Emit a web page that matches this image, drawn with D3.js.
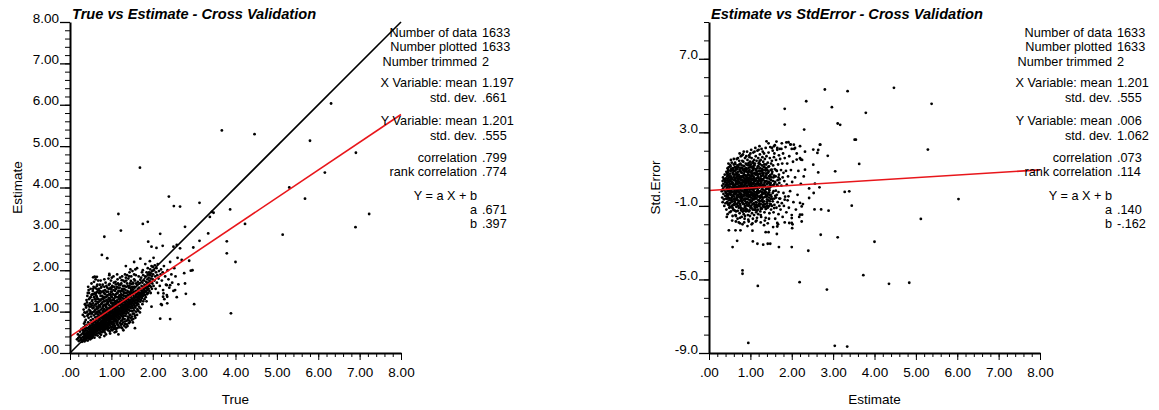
<!DOCTYPE html>
<html>
<head>
<meta charset="utf-8">
<script src="https://cdn.jsdelivr.net/npm/d3@7"></script>
<style>
body { margin: 0; background: #fff; }
svg { display: block; font-family: "Liberation Sans", Arial, sans-serif; }
</style>
</head>
<body>
<div id="chart"></div>
<script>
// ---- data ----
const axisTicks = [0, 1, 2, 3, 4, 5, 6, 7, 8];
const stdErrTicks = [-9, -5, -1, 3, 7];

const statLabels = ["Number of data", "Number plotted", "Number trimmed", "X Variable: mean", "std. dev.",
  "Y Variable: mean", "std. dev.", "correlation", "rank correlation", "Y = a X + b", "a", "b"];
const leftStats = ["1633", "1633", "2", "1.197", ".661", "1.201", ".555", ".799", ".774", "", ".671", ".397"];
const rightStats = ["1633", "1633", "2", "1.201", ".555", ".006", "1.062", ".073", ".114", "", ".140", "-.162"];

const leftFit = [0.671, 0.397];
const rightFit = [0.140, -0.162];

// True vs Estimate, dense part
const leftCloud = [
[.17,.33],[.19,.45],[.21,.29],[.22,.38],[.24,.52],[.25,.31],[.26,.44],[.27,.36],[.28,.58],[.29,.27],[.3,.47],[.23,.41],[.2,.36],[.28,.33],
[.31,.39],[.31,.55],[.32,.3],[.32,.48],[.33,.62],[.33,.36],[.34,.44],[.34,.71],[.35,.28],[.35,.52],[.36,.4],[.36,.59],[.37,.33],[.37,.47],[.37,.66],[.38,.38],[.38,.55],[.38,.8],[.39,.43],[.39,.31],[.4,.6],[.4,.49],[.4,.35],[.36,.75],[.33,.52],
[.41,.42],[.41,.68],[.42,.37],[.42,.53],[.42,.9],[.43,.46],[.43,.6],[.43,.3],[.44,.74],[.44,.5],[.44,.41],[.45,.57],[.45,.35],[.45,.85],[.45,1.52],[.46,.44],[.46,.63],[.46,1.05],[.47,.52],[.47,.39],[.47,.71],[.48,.47],[.48,.58],[.48,.95],[.49,.33],[.49,.66],[.49,.43],[.5,.54],[.5,.79],[.5,.38],[.43,1.45],[.47,1.12],
[.51,.46],[.51,.62],[.51,.88],[.52,.41],[.52,.56],[.52,.73],[.53,.5],[.53,.36],[.53,.67],[.54,.59],[.54,.45],[.54,.98],[.55,.53],[.55,.7],[.55,.4],[.55,.82],[.56,.48],[.56,.63],[.56,1.83],[.57,.57],[.57,.75],[.57,.44],[.57,1.1],[.58,.52],[.58,.68],[.58,.91],[.59,.47],[.59,.6],[.59,.37],[.6,.55],[.6,.77],[.6,1.02],[.6,.64],[.53,1.25],[.58,1.35],[.59,1.84],
[.61,.5],[.61,.69],[.61,.86],[.62,.58],[.62,.43],[.62,.74],[.63,.62],[.63,.52],[.63,.96],[.63,1.18],[.64,.67],[.64,.55],[.64,.8],[.65,.47],[.65,.71],[.65,.6],[.65,1.07],[.66,.64],[.66,.88],[.66,.53],[.66,1.3],[.67,.75],[.67,.58],[.67,.42],[.68,.69],[.68,.62],[.68,.93],[.68,1.22],[.69,.56],[.69,.78],[.69,.49],[.7,.66],[.7,.84],[.7,.59],[.7,1.01],[.62,1.4],[.66,1.48],[.69,1.12],[.64,1.55],[.67,.99],
[.71,.72],[.71,.55],[.71,.9],[.72,.63],[.72,.47],[.72,.81],[.72,1.15],[.73,.68],[.73,.58],[.73,.97],[.74,.75],[.74,.61],[.74,.52],[.74,1.28],[.75,.7],[.75,.86],[.75,.44],[.75,1.05],[.76,.65],[.76,.78],[.76,.57],[.77,.92],[.77,.69],[.77,.5],[.77,1.2],[.78,.74],[.78,.62],[.78,.84],[.78,1.38],[.79,.58],[.79,.79],[.79,1.0],[.79,.66],[.8,.71],[.8,.88],[.8,.53],[.8,1.12],[.73,1.44],[.76,1.6],[.79,1.3],[.71,1.02],[.75,.95],[.78,1.08],[.72,.38],
[.81,.76],[.81,.62],[.81,.95],[.82,.69],[.82,.55],[.82,.84],[.82,1.25],[.83,.73],[.83,.9],[.83,.6],[.83,1.06],[.84,.8],[.84,.66],[.84,.5],[.84,1.17],[.85,.75],[.85,.93],[.85,.62],[.85,1.35],[.86,.7],[.86,.86],[.86,1.01],[.86,.57],[.87,.78],[.87,.64],[.87,1.12],[.87,.45],[.88,.83],[.88,.97],[.88,.68],[.88,1.28],[.89,.74],[.89,.6],[.89,.9],[.89,1.05],[.9,.79],[.9,.66],[.9,1.18],[.9,.87],[.82,1.45],[.85,1.52],[.88,1.62],[.84,1.0],[.87,.92],[.83,.41],
[.91,.72],[.91,.85],[.91,1.0],[.92,.64],[.92,.93],[.92,1.21],[.92,.55],[.93,.8],[.93,.69],[.93,1.08],[.94,.88],[.94,.75],[.94,.6],[.94,1.33],[.95,.83],[.95,.98],[.95,.7],[.95,1.15],[.96,.77],[.96,.91],[.96,.52],[.96,1.26],[.97,.85],[.97,.66],[.97,1.04],[.97,1.42],[.98,.8],[.98,.95],[.98,.72],[.98,1.12],[.99,.88],[.99,.62],[.99,1.0],[.99,1.22],[1.0,.84],[1.0,.75],[1.0,.97],[1.0,1.36],[1.0,.57],[.93,1.55],[.96,1.67],[.99,1.48],[.95,1.88],[.91,1.4],[.97,.47],[.94,1.02],[.98,1.58],
[1.01,.9],[1.01,.7],[1.01,1.08],[1.02,.82],[1.02,1.0],[1.02,.63],[1.02,1.27],[1.03,.87],[1.03,.76],[1.03,1.16],[1.04,.93],[1.04,.68],[1.04,1.05],[1.04,1.42],[1.05,.85],[1.05,.99],[1.05,.74],[1.05,1.21],[1.06,.91],[1.06,.8],[1.06,1.12],[1.06,.58],[1.07,.96],[1.07,.86],[1.07,1.32],[1.07,.7],[1.08,1.02],[1.08,.78],[1.08,1.17],[1.08,.9],[1.09,.83],[1.09,1.07],[1.09,.65],[1.09,1.5],[1.1,.94],[1.1,1.0],[1.1,.76],[1.1,1.25],[1.03,1.6],[1.06,1.7],[1.09,1.38],[1.01,1.48],[1.05,1.3],[1.08,.5],[1.04,.88],[1.07,1.1],[1.02,.95],
[1.11,.88],[1.11,1.05],[1.11,1.18],[1.12,.8],[1.12,.97],[1.12,1.35],[1.13,.92],[1.13,1.1],[1.13,.71],[1.14,1.01],[1.14,.85],[1.14,1.27],[1.15,.96],[1.15,1.14],[1.15,.78],[1.15,1.45],[1.16,1.04],[1.16,.9],[1.16,1.22],[1.17,.98],[1.17,1.09],[1.17,.66],[1.17,1.58],[1.18,.93],[1.18,1.16],[1.18,.82],[1.18,1.31],[1.19,1.02],[1.19,.87],[1.19,1.2],[1.2,1.07],[1.2,.95],[1.2,1.4],[1.2,.73],[1.12,1.55],[1.16,1.68],[1.19,1.5],[1.14,.6],[1.18,1.05],[1.13,1.25],[1.17,.45],[1.11,1.66],[1.15,1.04],
[1.21,1.0],[1.21,1.15],[1.21,.85],[1.22,1.08],[1.22,.92],[1.22,1.3],[1.23,1.02],[1.23,1.2],[1.23,.78],[1.24,1.12],[1.24,.96],[1.24,1.42],[1.25,1.06],[1.25,.89],[1.25,1.25],[1.26,1.0],[1.26,1.17],[1.26,.7],[1.26,1.55],[1.27,1.1],[1.27,.94],[1.27,1.33],[1.28,1.04],[1.28,1.22],[1.28,.84],[1.29,1.14],[1.29,.98],[1.29,1.48],[1.3,1.08],[1.3,1.27],[1.3,.9],[1.22,1.65],[1.25,1.76],[1.28,1.62],[1.24,.62],[1.27,.8],[1.3,1.38],[1.23,1.5],[1.29,.55],[1.21,1.36],[1.26,1.02],[1.28,1.16],
[1.31,1.12],[1.31,.96],[1.31,1.3],[1.32,1.05],[1.32,1.22],[1.32,.82],[1.33,1.16],[1.33,1.0],[1.33,1.45],[1.34,1.09],[1.34,1.28],[1.34,.9],[1.35,1.2],[1.35,1.03],[1.35,1.38],[1.36,1.13],[1.36,.95],[1.36,1.6],[1.37,1.25],[1.37,1.07],[1.37,.78],[1.38,1.17],[1.38,1.33],[1.38,1.0],[1.39,1.1],[1.39,1.5],[1.39,.88],[1.4,1.22],[1.4,1.05],[1.4,1.4],[1.32,1.72],[1.35,1.82],[1.38,1.68],[1.33,.7],[1.36,1.28],[1.39,.65],[1.31,1.55],[1.4,1.15],
[1.41,1.14],[1.41,1.3],[1.41,.97],[1.42,1.2],[1.42,1.05],[1.42,1.47],[1.43,1.26],[1.43,1.1],[1.43,.86],[1.44,1.17],[1.44,1.35],[1.44,1.62],[1.45,1.22],[1.45,1.02],[1.45,1.42],[1.46,1.28],[1.46,1.12],[1.46,.92],[1.47,1.19],[1.47,1.38],[1.47,1.74],[1.48,1.25],[1.48,1.08],[1.48,1.52],[1.49,1.32],[1.49,1.15],[1.49,.8],[1.5,1.23],[1.5,1.45],[1.5,1.01],[1.43,1.85],[1.46,1.57],[1.49,1.67],[1.42,.72],[1.45,.75],
[1.51,1.3],[1.51,1.12],[1.51,1.55],[1.52,1.2],[1.52,1.4],[1.52,.95],[1.53,1.27],[1.53,1.08],[1.53,1.68],[1.54,1.35],[1.54,1.17],[1.54,1.48],[1.55,1.25],[1.55,1.03],[1.55,1.78],[1.56,1.32],[1.56,1.45],[1.56,1.14],[1.57,1.22],[1.57,1.6],[1.57,.9],[1.58,1.38],[1.58,1.28],[1.58,1.1],[1.59,1.5],[1.59,1.2],[1.59,1.88],[1.6,1.35],[1.6,1.42],[1.6,1.0],[1.53,.82],[1.57,.6],
[1.61,1.28],[1.61,1.5],[1.61,1.15],[1.62,1.37],[1.62,1.22],[1.62,1.65],[1.63,1.32],[1.63,1.43],[1.63,1.06],[1.64,1.27],[1.64,1.55],[1.64,1.72],[1.65,1.35],[1.65,1.18],[1.65,1.47],[1.66,1.4],[1.66,1.25],[1.66,1.85],[1.67,1.33],[1.67,1.58],[1.67,1.12],[1.68,1.45],[1.68,1.3],[1.68,1.68],[1.69,1.38],[1.69,1.52],[1.69,.98],[1.7,1.42],[1.7,1.24],[1.7,1.77],
[1.71,1.35],[1.71,1.55],[1.72,1.46],[1.72,1.28],[1.72,1.82],[1.73,1.4],[1.73,1.62],[1.74,1.5],[1.74,1.33],[1.74,1.95],[1.75,1.44],[1.75,1.7],[1.75,1.18],[1.76,1.56],[1.76,1.38],[1.77,1.48],[1.77,1.88],[1.77,1.25],[1.78,1.6],[1.78,1.42],[1.79,1.53],[1.79,1.75],[1.8,1.46],[1.8,1.65],[1.8,1.3],[1.76,2.0],
[1.81,1.58],[1.81,1.4],[1.82,1.5],[1.82,1.85],[1.83,1.62],[1.83,1.35],[1.84,1.72],[1.84,1.48],[1.85,1.56],[1.85,1.95],[1.86,1.66],[1.86,1.42],[1.87,1.78],[1.87,1.52],[1.88,1.6],[1.88,2.05],[1.89,1.7],[1.89,1.45],[1.9,1.82],[1.9,1.55],[1.85,1.25],[1.88,1.9],
[1.91,1.65],[1.91,1.95],[1.92,1.75],[1.92,1.5],[1.93,1.88],[1.93,1.62],[1.94,2.02],[1.94,1.7],[1.95,1.8],[1.95,1.45],[1.96,1.92],[1.96,1.6],[1.97,2.1],[1.97,1.72],[1.98,1.85],[1.98,1.55],[1.99,1.98],[1.99,1.68],[2.0,1.78],[2.0,2.08],
[2.01,1.9],[2.02,1.62],[2.03,2.0],[2.04,1.75],[2.05,2.12],[2.06,1.85],[2.07,1.55],[2.08,1.95],[2.09,2.05],[2.1,1.7],[2.11,1.88],[2.12,2.15],[2.14,1.8],[2.15,1.98],[2.17,1.62],[2.19,1.9],[2.2,2.02],[2.13,1.45],
[2.22,1.75],[2.24,1.95],[2.25,1.52],[2.27,2.1],[2.3,1.85],[2.32,1.65],[2.34,1.4],[2.36,2.0],[2.38,1.78],[2.4,1.58],[2.42,2.2],[2.45,1.9],[2.47,1.7],[2.5,1.5],[2.52,2.05],[2.55,1.85],[2.58,1.35],[2.6,2.3],[2.35,1.2],[2.28,1.3]
];

// True vs Estimate, upper half and lower edge of the cloud
const leftCloudUpper = [
[.31,.92],[.33,1.05],[.35,.88],[.36,1.18],[.38,.97],[.39,1.1],[.41,1.22],[.42,1.0],[.44,1.15],[.44,.93],[.46,1.3],[.48,1.2],[.49,1.02],[.5,1.35],[.5,.98],
[.51,1.12],[.52,1.4],[.53,.95],[.54,1.28],[.55,1.5],[.55,1.08],[.56,1.2],[.57,1.42],[.58,1.0],[.59,1.15],[.6,1.3],[.61,1.58],[.61,1.05],[.62,1.25],[.63,1.45],[.64,1.12],[.65,1.35],[.66,1.0],[.67,1.22],[.68,1.52],[.69,1.3],[.7,1.15],[.7,1.45],[.62,.95],[.65,1.62],[.68,1.08],[.57,1.6],[.53,1.15],
[.71,1.25],[.72,1.5],[.73,1.12],[.74,1.38],[.75,1.58],[.75,1.18],[.76,1.3],[.77,1.48],[.78,1.22],[.79,1.65],[.8,1.35],[.8,1.02],[.81,1.5],[.81,1.15],[.82,1.32],[.83,1.6],[.84,1.25],[.85,1.42],[.86,1.15],[.86,1.7],[.87,1.35],[.88,1.48],[.89,1.2],[.9,1.58],[.9,1.38],[.74,1.75],[.83,1.78],[.88,1.1],
[.91,1.25],[.92,1.48],[.93,1.3],[.94,1.65],[.95,1.42],[.96,1.08],[.97,1.55],[.97,1.3],[.98,1.4],[.99,1.75],[1.0,1.2],[1.0,1.55],[1.01,1.35],[1.02,1.62],[1.03,1.42],[1.04,1.2],[1.05,1.52],[1.06,1.28],[1.07,1.6],[1.08,1.4],[1.09,1.22],[1.1,1.55],[1.1,1.72],[.93,1.8],[1.05,1.85],[1.02,1.12],
[1.11,1.42],[1.12,1.25],[1.13,1.6],[1.14,1.45],[1.15,1.78],[1.16,1.35],[1.17,1.5],[1.18,1.65],[1.19,1.38],[1.2,1.58],[1.21,1.82],[1.22,1.48],[1.23,1.35],[1.24,1.68],[1.25,1.4],[1.26,1.85],[1.27,1.52],[1.28,1.4],[1.29,1.75],[1.3,1.55],[1.14,1.9],[1.2,1.25],
[1.31,1.45],[1.32,1.62],[1.33,1.9],[1.34,1.52],[1.36,1.75],[1.37,1.45],[1.38,1.88],[1.4,1.62],[1.41,1.8],[1.42,1.58],[1.44,1.95],[1.45,1.68],[1.47,1.5],[1.48,1.85],[1.5,1.6],[1.51,1.98],[1.52,1.7],[1.54,1.6],[1.55,1.9],[1.57,1.75],[1.58,2.02],[1.6,1.68],
[1.02,.55],[1.08,.62],[1.15,.68],[1.21,.72],[1.26,.6],[1.33,.76],[1.4,.82],[1.47,.85],[1.12,.52],[1.35,.62],
[1.03,.62],[1.06,.67],[1.11,.58],[1.14,.75],[1.19,.62],[1.23,.68],[1.28,.74],[1.31,.66],[1.37,.69],[1.42,.79],[1.44,.92],[1.5,.88],[1.52,.74],[1.55,.95],[1.58,.85],[1.62,.92],[1.65,1.02],[1.7,1.08],
[.4,1.28],[.42,1.38],[.44,1.6],[.46,1.45],[.48,1.33],[.5,1.55],[.52,1.68],[.54,1.42],[.56,1.55],[.58,1.72],[.6,1.45],[.62,1.78],[.64,1.38],[.66,1.65],[.68,1.75],[.7,1.55],[.72,1.65],[.5,1.18],[.38,1.15],[.35,.98]
];

// True vs Estimate, scattered points
const leftOutliers = [
[1.69,4.48],[3.67,5.38],[4.46,5.29],[5.8,5.13],[6.31,6.03],[6.91,4.84],[6.16,4.36],[5.3,4.0],[5.68,3.73],[2.39,3.78],
[2.51,3.55],[2.66,3.54],[3.13,3.63],[3.87,3.47],[1.17,3.36],[7.23,3.36],[6.9,3.04],[5.14,2.86],[4.23,3.12],[3.43,3.41],
[3.38,3.29],[3.47,3.39],[3.34,2.89],[3.13,2.71],[3.79,2.7],[3.79,2.41],[4.0,2.2],[3.89,.96],[3.0,1.18],[2.18,.83],
[2.42,.82],[1.76,3.12],[1.88,3.17],[1.23,2.96],[.83,2.81],[2.18,2.88],[2.78,3.05],[.77,2.37],[.9,2.29],[.6,1.84],
[.65,1.84],[2.24,2.59],[1.89,2.69],[1.97,2.57],[2.09,2.54],[2.5,2.57],[2.58,2.61],[2.66,2.53],[2.7,2.25],[2.88,2.23],
[2.92,1.99],[2.96,2.0],[2.78,1.68],[2.8,1.43],[2.54,1.52],[2.25,1.36],[2.35,1.36],[2.22,1.16],[1.97,1.12],[2.34,1.64],
[2.42,1.64],[2.98,2.55],[2.76,1.93],[2.62,1.66],[2.26,1.44],[2.2,1.18],[.95,1.91],[1.01,1.82],[1.55,2.2],[1.7,2.28],
[1.82,2.15],[2.02,2.3],[1.93,2.22],[1.62,2.05],[1.46,2.02],[1.35,2.1]
];

// Estimate vs StdError, dense part
const rightCloud = [
[.31,-.2],[.32,.1],[.32,-.55],[.33,.35],[.33,-.8],[.34,-.05],[.34,.55],[.35,-.35],[.35,.2],[.36,-.65],[.36,.45],[.37,-.15],[.37,-1.0],[.38,.05],[.38,.7],[.39,-.45],[.39,.3],[.4,-.25],[.4,-.85],[.4,.15],
[.41,.5],[.41,-.6],[.42,-.1],[.42,.85],[.42,-1.2],[.43,.25],[.43,-.35],[.44,.6],[.44,-.8],[.44,.0],[.45,-1.45],[.45,.4],[.45,-.5],[.46,.95],[.46,-.2],[.46,.15],[.47,-.95],[.47,.7],[.47,-.4],[.48,.3],[.48,-.7],[.48,1.1],[.49,-.05],[.49,-1.1],[.49,.55],[.5,-.3],[.5,.2],[.5,-.6],[.43,-1.6],[.47,1.3],
[.51,.05],[.51,-.85],[.51,.75],[.52,-.4],[.52,1.15],[.52,.35],[.53,-1.3],[.53,-.15],[.53,.6],[.54,-.6],[.54,.95],[.54,.2],[.55,-1.0],[.55,-.25],[.55,1.35],[.56,.45],[.56,-.75],[.56,.0],[.57,.8],[.57,-1.55],[.57,-.45],[.58,.25],[.58,1.05],[.58,-1.15],[.59,-.1],[.59,.55],[.59,-.65],[.6,.1],[.6,1.25],[.6,-.9],[.6,-.35],[.53,1.5],[.56,-1.8],[.58,-.05],[.55,.3],
[.61,.4],[.61,-.5],[.61,.9],[.62,-1.25],[.62,.15],[.62,-.2],[.63,.7],[.63,-.8],[.63,1.35],[.64,-.05],[.64,-1.5],[.64,.5],[.65,.25],[.65,-.6],[.65,1.0],[.66,-.3],[.66,.8],[.66,-1.05],[.67,.05],[.67,1.55],[.67,-.45],[.68,.6],[.68,-.9],[.68,.3],[.69,-.15],[.69,1.2],[.69,-1.7],[.7,.45],[.7,-.7],[.7,.0],[.62,.55],[.64,-.35],[.66,.2],[.68,-.55],[.7,.85],[.61,-.95],[.65,-1.85],[.69,.7],[.63,.1],[.67,-.2],
[.71,.35],[.71,-.4],[.71,1.1],[.72,-1.1],[.72,.1],[.72,.7],[.73,-.25],[.73,1.45],[.73,-.75],[.74,.5],[.74,-1.4],[.74,.0],[.75,.9],[.75,-.55],[.75,.25],[.76,-1.0],[.76,1.3],[.76,-.15],[.77,.6],[.77,-.65],[.77,1.7],[.78,.15],[.78,-1.25],[.78,-.35],[.79,.8],[.79,-.05],[.79,-1.6],[.8,.4],[.8,-.8],[.8,1.05],[.72,-1.9],[.74,1.85],[.76,.45],[.78,.55],[.8,-.2],[.71,-.1],[.73,.3],[.75,-.9],[.77,.05],[.79,1.2],[.75,-1.95],[.77,-.45],
[.81,.2],[.81,-.5],[.81,.95],[.82,-1.15],[.82,.55],[.82,-.05],[.83,1.4],[.83,-.7],[.83,.3],[.84,-1.45],[.84,.75],[.84,-.25],[.85,1.15],[.85,.05],[.85,-.9],[.86,.5],[.86,-1.7],[.86,-.35],[.87,1.6],[.87,.15],[.87,-.6],[.88,.9],[.88,-1.0],[.88,-.1],[.89,.4],[.89,1.3],[.89,-1.3],[.9,-.45],[.9,.65],[.9,.0],[.82,1.8],[.84,.1],[.86,.85],[.88,-.75],[.9,-.85],[.81,-2.0],[.85,-1.25],[.87,.45],[.89,-.2],[.83,-.4],[.85,.35],[.87,-1.55],[.9,1.05],[.84,1.95],[.86,-.15],
[.91,.25],[.91,-.6],[.91,1.0],[.92,-1.2],[.92,.55],[.92,-.15],[.93,1.5],[.93,-.8],[.93,.1],[.94,.8],[.94,-1.5],[.94,-.3],[.95,1.2],[.95,.35],[.95,-1.0],[.96,-.05],[.96,.7],[.96,-1.85],[.97,1.75],[.97,-.5],[.97,.2],[.98,-1.25],[.98,.95],[.98,-.2],[.99,.45],[.99,1.4],[.99,-.7],[1.0,.0],[1.0,-1.1],[1.0,.65],[.92,1.95],[.94,.45],[.96,-.4],[.98,.1],[1.0,1.1],[.91,-.35],[.93,-2.1],[.95,-.65],[.97,.9],[.99,-1.55],[.94,-.05],[.96,.25],[1.0,-.45],[.92,.85],[.98,1.65],
[1.01,.3],[1.01,-.55],[1.01,1.25],[1.02,-1.0],[1.02,.65],[1.02,-.1],[1.03,1.6],[1.03,-.75],[1.03,.15],[1.04,.9],[1.04,-1.4],[1.04,-.3],[1.05,1.35],[1.05,.4],[1.05,-.9],[1.06,.0],[1.06,.75],[1.06,-1.7],[1.07,1.9],[1.07,-.5],[1.07,.25],[1.08,-1.2],[1.08,1.05],[1.08,-.2],[1.09,.55],[1.09,1.5],[1.09,-.65],[1.1,.1],[1.1,-1.05],[1.1,.8],[1.02,2.05],[1.04,.45],[1.06,-.4],[1.08,.2],[1.1,1.2],[1.01,-.25],[1.03,-2.0],[1.05,-.6],[1.07,.95],[1.09,-1.5],[1.04,.05],[1.06,1.4],[1.1,-.35],[1.03,.6],[1.08,-.85],
[1.11,.35],[1.11,-.6],[1.11,1.3],[1.12,-1.1],[1.12,.7],[1.12,-.05],[1.13,1.7],[1.13,-.8],[1.13,.2],[1.14,1.0],[1.14,-1.35],[1.14,-.25],[1.15,1.45],[1.15,.5],[1.15,-.95],[1.16,.05],[1.16,.85],[1.16,-1.65],[1.17,2.0],[1.17,-.45],[1.17,.3],[1.18,-1.2],[1.18,1.15],[1.18,-.15],[1.19,.6],[1.19,1.6],[1.19,-.7],[1.2,.15],[1.2,-1.0],[1.2,.9],[1.12,2.15],[1.14,.4],[1.16,-.35],[1.18,.25],[1.2,1.3],[1.13,-1.85],[1.15,-.55],[1.17,1.05],[1.19,-1.45],[1.15,.0],
[1.21,.4],[1.21,-.5],[1.21,1.35],[1.22,-1.0],[1.22,.75],[1.22,.0],[1.23,1.8],[1.23,-.75],[1.23,.2],[1.24,1.05],[1.24,-1.3],[1.24,-.2],[1.25,1.5],[1.25,.5],[1.25,-.9],[1.26,.1],[1.26,.9],[1.26,-1.6],[1.27,2.1],[1.27,-.4],[1.27,.3],[1.28,-1.15],[1.28,1.2],[1.28,-.1],[1.29,.65],[1.29,1.65],[1.29,-.65],[1.3,.15],[1.3,-.95],[1.3,.95],[1.22,2.25],[1.25,-1.9],[1.28,.45],[1.24,.35],[1.3,-.3],
[1.31,.45],[1.31,-.55],[1.31,1.4],[1.32,-1.05],[1.32,.8],[1.32,.05],[1.33,1.85],[1.33,-.75],[1.34,.25],[1.34,1.1],[1.34,-1.35],[1.35,-.2],[1.35,1.55],[1.35,.55],[1.36,-.9],[1.36,.1],[1.36,.95],[1.37,-1.65],[1.37,2.15],[1.37,-.4],[1.38,.35],[1.38,-1.15],[1.38,1.25],[1.39,-.05],[1.39,.7],[1.39,1.7],[1.4,-.65],[1.4,.2],[1.4,-1.0],[1.33,-2.05],
[1.41,.5],[1.41,-.45],[1.42,1.35],[1.42,-1.1],[1.43,.8],[1.43,.05],[1.44,1.9],[1.44,-.7],[1.45,.3],[1.45,1.15],[1.46,-1.4],[1.46,-.15],[1.47,1.6],[1.47,.6],[1.48,-.9],[1.48,.15],[1.48,2.2],[1.49,.95],[1.49,-.4],[1.5,-1.2],[1.5,.4],[1.5,1.3],[1.42,-1.95],[1.45,-.55],[1.47,.0],[1.44,2.4],
[1.51,.55],[1.51,-.5],[1.52,1.45],[1.52,-1.0],[1.53,.85],[1.53,.1],[1.54,2.0],[1.54,-.75],[1.55,.35],[1.55,1.2],[1.56,-1.35],[1.56,-.2],[1.57,1.65],[1.57,.65],[1.58,-.95],[1.58,.2],[1.59,2.3],[1.59,1.0],[1.6,-.45],[1.6,-1.7],[1.55,-2.15],[1.58,1.85],
[1.61,.6],[1.62,-.55],[1.62,1.5],[1.63,-1.1],[1.64,.9],[1.64,.15],[1.65,2.05],[1.66,-.8],[1.66,.4],[1.67,1.25],[1.68,-1.45],[1.68,-.25],[1.69,1.75],[1.69,.7],[1.7,-1.0],[1.7,.25],[1.63,2.5],[1.67,-2.0],
[1.71,.45],[1.72,-.6],[1.72,1.55],[1.73,-1.2],[1.74,.95],[1.75,.1],[1.75,2.1],[1.76,-.85],[1.77,1.3],[1.78,-1.6],[1.78,.55],[1.79,1.85],[1.8,-.3],[1.8,.8],[1.76,2.4],
[1.81,-1.0],[1.82,.35],[1.83,1.6],[1.84,-.5],[1.85,2.2],[1.86,.9],[1.87,-1.35],[1.88,.15],[1.89,1.3],[1.9,-.7],[1.87,2.45],[1.83,-1.9],
[1.91,.6],[1.93,-1.1],[1.94,1.7],[1.96,-.2],[1.97,2.35],[1.98,.95],[2.0,-1.5],[2.01,.3],[2.03,1.4],[2.04,-.8],[2.06,2.1],[2.08,.55],[2.1,-1.2],[2.02,-2.0],
[2.12,1.85],[2.14,-.4],[2.16,.9],[2.18,-1.6],[2.2,2.25],[2.22,.2],[2.25,1.5],[2.27,-.9],[2.29,.6],[2.24,-1.85]
];

// Estimate vs StdError, core of the cloud
const rightCloudCore = [
[.395,.4],[.415,-.3],[.435,.75],[.455,-.15],[.465,.5],[.485,-.95],[.505,.6],[.515,-.2],[.525,.9],[.535,-.7],[.545,.45],[.565,-1.1],[.575,.15],[.585,.95],[.595,-.4],
[.605,.7],[.615,-.75],[.625,1.1],[.635,-.1],[.645,.35],[.655,-1.3],[.665,.55],[.675,-.6],[.685,1.0],[.695,.2],[.705,-1.0],[.715,.6],[.725,-.5],[.735,1.25],[.745,.25],
[.755,-.3],[.765,.85],[.775,-1.2],[.785,.4],[.795,-.6],[.805,1.45],[.815,.0],[.825,-.9],[.835,.65],[.845,-.45],[.855,1.0],[.865,.3],[.875,-1.1],[.885,.6],[.895,-.3],
[.905,1.25],[.915,.1],[.925,-.95],[.935,.45],[.945,-.5],[.955,.9],[.965,-1.3],[.975,.55],[.985,-.1],[.995,1.2],[1.005,-.8],[1.015,.5],[1.025,-.35],[1.035,1.1],[1.045,.2],
[1.055,-1.2],[1.065,.6],[1.075,-.1],[1.085,1.3],[1.095,-.45],[1.105,.45],[1.115,-.95],[1.125,1.0],[1.135,.05],[1.145,-.6],[1.155,.7],[1.165,-1.25],[1.175,.55],[1.185,-.3],[1.195,1.15],
[1.205,-.7],[1.215,.2],[1.225,1.45],[1.235,-.45],[1.245,.75],[1.255,-1.1],[1.265,.4],[1.275,-.25],[1.285,1.0],[1.295,.05],[1.305,-.8],[1.315,.7],[1.325,-.3],[1.335,1.25],[1.345,.35],
[1.355,-1.05],[1.365,.6],[1.375,-.1],[1.385,1.05],[1.395,-.5],[1.41,.95],[1.43,-.35],[1.45,.6],[1.47,-.75],[1.49,.25],[1.52,.75],[1.54,-.3],[1.56,.55],[1.58,-.6],[1.6,.3],
[1.62,.95],[1.64,-.4],[1.66,.1],[1.68,.55],[1.7,-.6],[.6,1.55],[.7,1.6],[.8,1.75],[.9,1.7],[1.0,1.85],[1.1,1.95],[1.2,2.05],[1.3,1.95],[.65,-1.55],[.75,-1.65],
[.85,-1.9],[.95,-1.75],[1.05,-1.95],[1.15,-1.8],[1.25,-1.5],[1.35,-1.8],[1.45,-1.7],[.5,-1.35],[.45,1.05],
[.42,.12],[.43,-.62],[.44,.37],[.45,-.87],[.46,.67],[.47,-.12],[.48,.92],[.49,-.57],[.5,.42],[.51,-1.07],
[.52,.17],[.53,-.37],[.54,1.02],[.55,-.77],[.56,.27],[.57,-.22],[.58,.72],[.59,-1.22],[.6,-.02],[.61,.12],
[.62,-.62],[.63,.47],[.64,.92],[.65,-.92],[.66,.37],[.67,-.07],[.68,1.12],[.69,-.42],[.7,.62],[.71,-.82],
[.72,.32],[.73,-.02],[.74,.97],[.75,-.37],[.76,.12],[.77,-1.12],[.78,.82],[.79,.27],[.8,-.52],[.81,.62],
[.82,-.87],[.83,.07],[.84,1.17],[.85,-.22],[.86,.42],[.87,-1.02],[.88,.22],[.89,-.62],[.9,.97],[.91,-.07],
[.92,.32],[.93,-1.27],[.94,.67],[.95,-.42],[.96,1.07],[.97,-.87],[.98,.37],[.99,-.27],[1.0,.82],[1.01,-.72],
[1.02,.22],[1.03,-1.12],[1.04,.67],[1.05,-.12],[1.06,1.02],[1.07,-.92],[1.08,.47],[1.09,-.32],[1.1,.02],[1.11,-1.22],
[1.12,.42],[1.13,-.42],[1.14,.77],[1.15,-.82],[1.16,.17],[1.17,-.17],[1.18,.72],[1.19,-.97],[1.2,.52],[1.21,-.27],
[1.22,.92],[1.23,-.57],[1.24,.07],[1.25,-1.17],[1.26,.62],[1.27,-.72],[1.28,.87],[1.29,-.37],[1.3,.42],[1.31,-.12],
[1.32,1.12],[1.33,-.92],[1.34,.57],[1.35,-.52],[1.36,.32],[1.37,-1.17],[1.38,.77],[1.39,-.27],[1.4,.52],[1.41,-.87],
[1.42,.22],[1.43,-.07],[1.44,.87],[1.45,-1.02],[1.46,.47],[1.47,-.42],[1.48,.67],[1.49,-.62],[1.5,.07],
[.435,-.47],[.455,.82],[.475,.07],[.495,-.32],[.515,1.22],[.535,.52],[.555,-.52],[.575,-.97],[.595,.87],[.615,-.27],
[.635,1.27],[.655,-.67],[.675,.72],[.695,-1.27],[.715,-.27],[.735,.57],[.755,1.07],[.775,-.72],[.795,.02],[.815,-1.32],
[.835,.92],[.855,-.62],[.875,.67],[.895,-1.17],[.915,.52],[.935,-.22],[.955,1.32],[.975,-.97],[.995,.17],[1.015,-.42],
[1.035,.77],[1.055,-.67],[1.075,1.17],[1.095,.32],[1.115,-.52],[1.135,.92],[1.155,-1.07],[1.175,-.02],[1.195,.37],[1.215,-.87],
[1.235,1.27],[1.255,.22],[1.275,-.52],[1.295,.77],[1.315,-1.02],[1.335,.12],[1.355,-.32],[1.375,.92],[1.395,-.77],[1.415,.32],
[1.435,1.12],[1.455,-.27],[1.475,.22],[1.495,-.92],[1.515,.97],[1.535,-.62],[1.555,.12],[1.575,-1.12],[1.595,.62],[1.615,-.17]
];

// Estimate vs StdError, scattered points
const rightOutliers = [
[2.8,5.33],[3.35,5.24],[4.47,5.42],[2.35,4.69],[5.38,4.55],[1.83,4.28],[2.97,4.37],[3.79,4.06],[1.83,3.42],[3.11,3.48],
[3.17,3.41],[2.3,3.15],[3.52,2.6],[3.55,2.6],[5.29,2.06],[2.69,2.33],[2.87,1.72],[3.63,1.28],[3.05,.88],[2.56,.21],
[2.67,.01],[3.28,-.24],[3.39,-.21],[2.53,-.3],[2.42,-.57],[3.45,-.99],[6.03,-.63],[2.55,-1.19],[2.71,-1.19],[2.89,-1.26],
[5.12,-1.71],[2.7,-2.57],[3.11,-2.71],[4.0,-2.95],[2.4,-3.44],[2.0,-3.24],[1.69,-3.24],[3.73,-4.77],[4.35,-5.24],[4.84,-5.18],
[2.19,-5.15],[2.85,-5.55],[1.18,-5.35],[.81,-4.51],[.81,-4.69],[.95,-8.45],[3.04,-8.61],[3.34,-8.65],[.57,-3.24],[.68,-2.9],
[1.06,-2.93],[1.17,-3.06],[1.31,-3.11],[1.42,-3.06],[1.48,-3.06],[.48,-2.33],[.64,-2.33],[.76,-2.33],[1.05,-2.35],[1.37,-2.43],
[1.44,-2.43],[1.64,-2.53],[1.65,-2.12],[1.65,-1.93],[2.01,-2.21],[2.0,-1.93],[1.39,2.51],[2.64,2.04],[2.32,1.95],[2.2,1.59],
[2.22,1.52],[2.52,1.24],[2.64,.82],[2.42,-.05],[2.32,.97],[2.12,1.52],[2.2,-.84],[2.24,-1.03],[2.2,-1.48],[2.25,-1.48],
[2.0,-1.66],[1.94,-1.93],[1.83,-.66],[1.92,-.48],[1.52,2.15],[1.57,2.24],[1.65,2.15],[1.71,2.1],[1.92,2.46],[1.97,2.33],
[2.05,2.33],[2.08,2.15],[2.0,2.1],[2.52,2.06],[2.62,1.88],[2.68,2.33]
];

// ---- layout ----
const W = 1159, H = 410;
const plotTop = 22, plotBottom = 353, plotWidth = 331;
const statRows = [37, 51.3, 65.6, 87.2, 101.5, 125.2, 139.5, 161.8, 176.1, 199.5, 213.8, 228.1];

const svg = d3.select("#chart").append("svg")
  .attr("width", W)
  .attr("height", H);

svg.append("rect").attr("width", W).attr("height", H).attr("fill", "#fff");

function fmt(digits) {
  return function (v) {
    let s = Math.abs(v).toFixed(digits);
    if (s.startsWith("0.")) s = s.slice(1);
    return (v < 0 ? "-" : "") + s;
  };
}

function drawPanel(p) {
  const g = svg.append("g");
  const x = d3.scaleLinear().domain([0, 8]).range([p.left, p.left + plotWidth]);
  const y = d3.scaleLinear().domain(p.yDomain).range([plotBottom, plotTop]);

  // points
  g.append("g").selectAll("circle")
    .data(p.points)
    .join("circle")
      .attr("cx", d => x(d[0]))
      .attr("cy", d => y(d[1]))
      .attr("r", 1.4)
      .attr("fill", "#000");

  // 45 degree line
  if (p.diagonal) {
    g.append("line")
      .attr("x1", x(0)).attr("y1", y(0))
      .attr("x2", x(8)).attr("y2", y(8))
      .attr("stroke", "#000").attr("stroke-width", 1.6);
  }

  // regression line
  g.append("line")
    .attr("x1", x(0)).attr("y1", y(p.fit[1]))
    .attr("x2", x(8)).attr("y2", y(p.fit[0] * 8 + p.fit[1]))
    .attr("stroke", "#e8161b").attr("stroke-width", 1.6);

  // x axis: minor ticks then major ticks
  g.append("g")
    .attr("transform", "translate(0," + plotBottom + ")")
    .call(d3.axisBottom(x).tickValues(d3.range(0, 8.001, 0.2)).tickSize(4).tickFormat(""))
    .call(s => s.select(".domain").remove());

  const xa = g.append("g")
    .attr("transform", "translate(0," + plotBottom + ")")
    .call(d3.axisBottom(x).tickValues(axisTicks).tickSize(7).tickSizeOuter(0).tickFormat(fmt(2)))
    .attr("font-size", 13.5).attr("font-family", null);
  xa.select(".domain").attr("stroke-width", 2);
  xa.selectAll("text").attr("y", 24).attr("dy", 0).attr("fill", "#000");

  // y axis
  g.append("g")
    .attr("transform", "translate(" + p.left + ",0)")
    .call(d3.axisLeft(y).tickValues(p.yMinor).tickSize(5).tickFormat(""))
    .call(s => s.select(".domain").remove());

  const ya = g.append("g")
    .attr("transform", "translate(" + p.left + ",0)")
    .call(d3.axisLeft(y).tickValues(p.yTicks).tickSize(10).tickSizeOuter(0).tickFormat(fmt(p.yDigits)))
    .attr("font-size", 13.5).attr("font-family", null);
  ya.select(".domain").attr("stroke-width", 2);
  ya.selectAll(".tick line").attr("stroke-width", 1.3);
  ya.selectAll("text").attr("x", -11).attr("dy", 0).attr("fill", "#000");

  // title
  g.append("text")
    .attr("x", p.left + 2).attr("y", 19)
    .attr("font-size", 14.6).attr("font-weight", "bold").attr("font-style", "italic")
    .text(p.title);

  // axis titles
  g.append("text")
    .attr("x", p.left + plotWidth / 2).attr("y", 404)
    .attr("text-anchor", "middle").attr("font-size", 13.5)
    .text(p.xLabel);

  g.append("text")
    .attr("transform", "translate(" + p.yLabelX + "," + (plotTop + plotBottom) / 2 + ") rotate(-90)")
    .attr("text-anchor", "middle").attr("font-size", 13.5)
    .text(p.yLabel);

  // statistics
  const st = g.append("g").attr("font-size", 12.7);
  st.selectAll(".lab")
    .data(statLabels)
    .join("text")
      .attr("class", "lab")
      .attr("x", p.statX - 5)
      .attr("y", (d, i) => statRows[i])
      .attr("text-anchor", "end")
      .text(d => d);
  st.selectAll(".val")
    .data(p.stats)
    .join("text")
      .attr("class", "val")
      .attr("x", p.statX)
      .attr("y", (d, i) => statRows[i])
      .text(d => d);
}

drawPanel({
  left: 70,
  title: "True vs Estimate - Cross Validation",
  xLabel: "True",
  yLabel: "Estimate",
  yLabelX: 22,
  yDomain: [0, 8],
  yTicks: axisTicks,
  yMinor: d3.range(0, 8.001, 0.2),
  yDigits: 2,
  points: leftCloud.concat(leftCloudUpper, leftOutliers),
  diagonal: true,
  fit: leftFit,
  stats: leftStats,
  statX: 482
});

drawPanel({
  left: 709,
  title: "Estimate vs StdError - Cross Validation",
  xLabel: "Estimate",
  yLabel: "Std.Error",
  yLabelX: 660,
  yDomain: [-9, 9],
  yTicks: stdErrTicks,
  yMinor: d3.range(-9, 9.001, 1),
  yDigits: 1,
  points: rightCloud.concat(rightCloudCore, rightOutliers),
  diagonal: false,
  fit: rightFit,
  stats: rightStats,
  statX: 1117
});
</script>
</body>
</html>
